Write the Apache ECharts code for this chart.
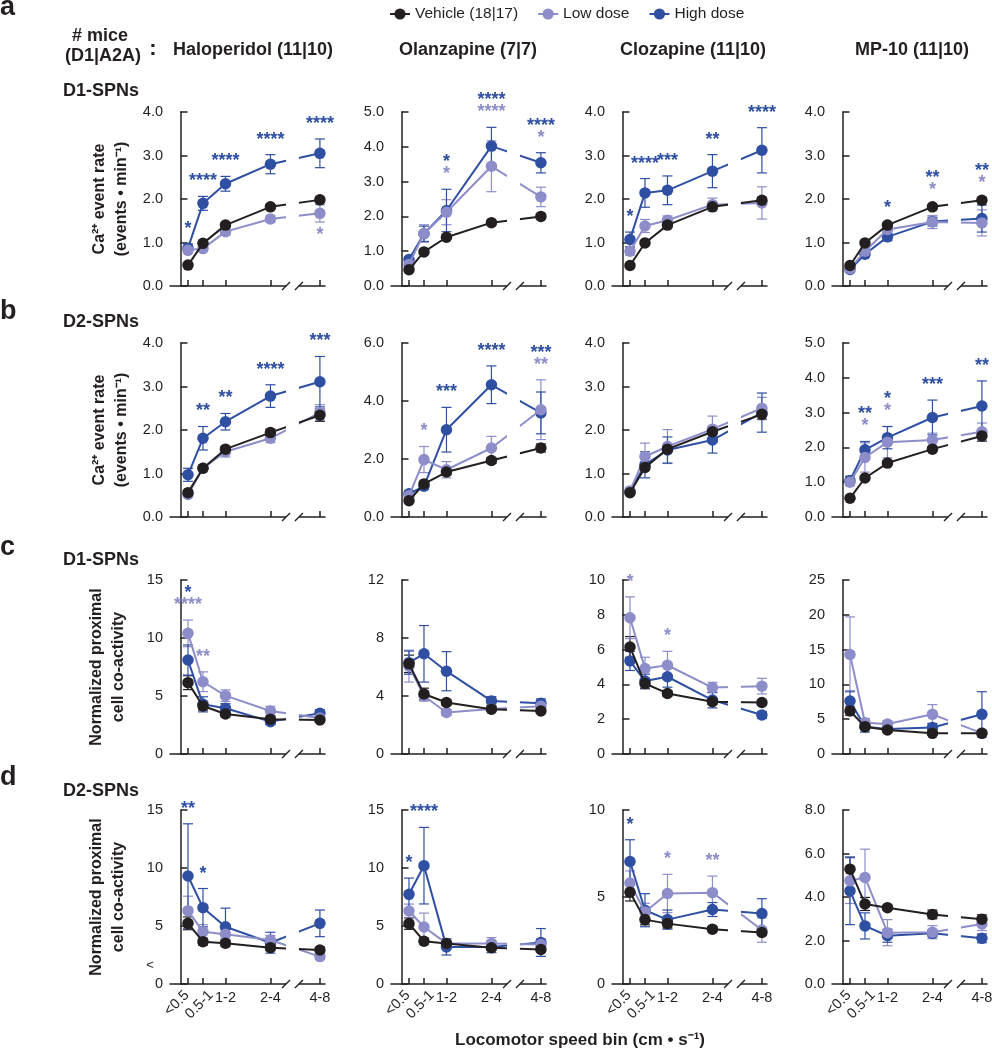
<!DOCTYPE html>
<html><head><meta charset="utf-8">
<script src="https://cdn.jsdelivr.net/npm/echarts@6/dist/echarts.min.js"></script>
<style>html,body{margin:0;padding:0;background:#fff}#c{width:992px;height:1050px}</style>
</head><body><div id="c"></div>
<script>
// ---------------- DATA ----------------
const bins = ['<0.5', '0.5-1', '1-2', '2-4', '4-8'];
const binMid = [0.25, 0.75, 1.5, 3, 6];            // bin centres (cm/s)
const groups = ['Vehicle (18|17)', 'Low dose', 'High dose'];
const drugs = ['Haloperidol (11|10)', 'Olanzapine (7|7)', 'Clozapine (11|10)', 'MP-10 (11|10)'];
const rowLetters = ['a', 'b', 'c', 'd'];
const rowCells = ['D1-SPNs', 'D2-SPNs', 'D1-SPNs', 'D2-SPNs'];
const yMax  = [[4, 5, 4, 4], [4, 6, 4, 5], [15, 12, 10, 25], [15, 15, 10, 8]];
const yStep = [[1, 1, 1, 1], [1, 2, 1, 1], [5, 4, 2, 5], [5, 5, 5, 2]];
const yDec  = [[1, 1, 1, 1], [1, 1, 1, 1], [0, 0, 0, 0], [0, 0, 0, 1]];

// means / SEM: [vehicle, low dose, high dose]; significance: [high dose, low dose] ('b:' = below)
// a: D1-SPNs Ca2+ event rate
const aHaloMean = [[0.48,0.98,1.40,1.82,1.98],[0.82,0.86,1.25,1.54,1.67],[0.87,1.90,2.35,2.80,3.05]];
const aHaloSem  = [[0.04,0.04,0.05,0.05,0.06],[0.06,0.06,0.08,0.08,0.20],[0.10,0.16,0.17,0.22,0.33]];
const aHaloSig  = [['*','****','****','****','****'],['','','','','b:*']];
const aOlanMean = [[0.47,0.98,1.40,1.82,2.00],[0.62,1.51,2.12,3.44,2.56],[0.76,1.50,2.17,4.02,3.54]];
const aOlanSem  = [[0.05,0.05,0.05,0.05,0.06],[0.08,0.25,0.36,0.73,0.28],[0.08,0.22,0.61,0.54,0.29]];
const aOlanSig  = [['','','*','****','****'],['','','*','****','*']];
const aClozMean = [[0.47,0.99,1.40,1.82,1.97],[0.80,1.38,1.51,1.87,1.91],[1.07,2.14,2.20,2.64,3.12]];
const aClozSem  = [[0.04,0.04,0.05,0.05,0.06],[0.09,0.15,0.10,0.15,0.37],[0.17,0.33,0.33,0.38,0.52]];
const aClozSig  = [['*','****','***','**','****'],['','','','','']];
const aMp10Mean = [[0.47,0.99,1.40,1.82,1.97],[0.40,0.80,1.30,1.47,1.45],[0.38,0.73,1.13,1.48,1.55]];
const aMp10Sem  = [[0.04,0.04,0.05,0.05,0.06],[0.05,0.07,0.10,0.15,0.30],[0.05,0.06,0.09,0.10,0.31]];
const aMp10Sig  = [['','','*','**','**'],['','','','*','*']];
// b: D2-SPNs Ca2+ event rate
const bHaloMean = [[0.56,1.12,1.56,1.94,2.34],[0.52,1.12,1.50,1.81,2.40],[0.97,1.81,2.19,2.78,3.11]];
const bHaloSem  = [[0.04,0.05,0.06,0.08,0.14],[0.05,0.08,0.12,0.10,0.18],[0.15,0.27,0.19,0.26,0.58]];
const bHaloSig  = [['','**','**','****','***'],['','','','','']];
const bOlanMean = [[0.56,1.14,1.55,1.95,2.38],[0.73,1.98,1.63,2.38,3.70],[0.80,1.06,3.01,4.56,3.59]];
const bOlanSem  = [[0.05,0.06,0.10,0.10,0.14],[0.10,0.45,0.28,0.40,1.03],[0.10,0.10,0.77,0.65,0.72]];
const bOlanSig  = [['','','***','****','***'],['','*','','','**']];
const bClozMean = [[0.56,1.14,1.56,1.96,2.36],[0.60,1.39,1.62,2.02,2.50],[0.58,1.20,1.54,1.77,2.40]];
const bClozSem  = [[0.04,0.05,0.06,0.07,0.12],[0.08,0.31,0.39,0.30,0.25],[0.06,0.30,0.30,0.30,0.45]];
const bClozSig  = [['','','','',''],['','','','','']];
const bMp10Mean = [[0.54,1.12,1.55,1.95,2.33],[1.00,1.71,2.15,2.21,2.45],[1.05,1.93,2.28,2.86,3.19]];
const bMp10Sem  = [[0.04,0.05,0.06,0.07,0.15],[0.10,0.42,0.45,0.20,0.25],[0.12,0.24,0.32,0.50,0.72]];
const bMp10Sig  = [['','**','*','***','**'],['','*','*','','']];
// c: D1-SPNs normalized proximal co-activity
const cHaloMean = [[6.15,4.14,3.45,2.99,2.93],[10.4,6.23,5.03,3.71,3.10],[8.10,4.28,3.94,2.79,3.51]];
const cHaloSem  = [[0.60,0.35,0.25,0.20,0.20],[1.15,0.85,0.50,0.40,0.30],[1.30,0.65,0.40,0.25,0.30]];
const cHaloSig  = [['*','','','',''],['****','**','','','']];
const cOlanMean = [[6.22,4.14,3.55,3.09,2.97],[6.06,4.00,2.86,3.10,3.30],[6.30,6.91,5.71,3.66,3.50]];
const cOlanSem  = [[0.60,0.40,0.20,0.15,0.15],[1.10,0.35,0.20,0.20,0.30],[0.80,1.95,1.35,0.30,0.30]];
const cOlanSig  = [['','','','',''],['','','','','']];
const cClozMean = [[6.15,4.05,3.48,3.00,2.96],[7.83,4.91,5.10,3.82,3.90],[5.35,4.19,4.44,3.10,2.24]];
const cClozSem  = [[0.60,0.30,0.15,0.15,0.12],[1.20,0.65,0.80,0.30,0.45],[0.55,0.40,0.60,0.45,0.20]];
const cClozSig  = [['','','','',''],['*','','*','','']];
const cMp10Mean = [[6.17,3.93,3.45,2.97,2.97],[14.3,4.50,4.30,5.70,3.00],[7.60,3.90,3.60,3.80,5.70]];
const cMp10Sem  = [[0.60,0.40,0.30,0.30,0.30],[5.40,0.60,0.50,1.40,0.40],[1.45,0.75,0.40,0.60,3.25]];
const cMp10Sig  = [['','','','',''],['','','','','']];
// d: D2-SPNs normalized proximal co-activity
const dHaloMean = [[5.23,3.65,3.51,3.13,2.93],[6.32,4.51,4.28,3.79,2.36],[9.31,6.58,4.94,3.56,5.23]];
const dHaloSem  = [[0.55,0.30,0.25,0.25,0.25],[1.25,0.60,0.40,0.40,0.25],[4.50,1.65,1.60,0.90,1.15]];
const dHaloSig  = [['**','*','','',''],['','','','','']];
const dOlanMean = [[5.21,3.69,3.49,3.12,2.98],[6.29,4.91,3.50,3.50,3.40],[7.73,10.2,3.20,3.20,3.58]];
const dOlanSem  = [[0.50,0.25,0.20,0.20,0.20],[0.60,1.20,0.30,0.50,0.50],[1.40,3.30,0.70,0.50,1.20]];
const dOlanSig  = [['*','****','','',''],['','','','','']];
const dClozMean = [[5.27,3.70,3.47,3.15,2.96],[5.80,4.14,5.20,5.25,3.10],[7.04,4.24,3.70,4.28,4.05]];
const dClozSem  = [[0.50,0.30,0.25,0.15,0.15],[0.70,0.50,1.10,0.95,0.70],[1.25,0.95,0.55,0.40,0.85]];
const dClozSig  = [['*','','','',''],['','','*','**','']];
const dMp10Mean = [[5.28,3.68,3.51,3.20,2.98],[4.75,4.90,2.36,2.38,2.76],[4.28,2.67,2.22,2.33,2.10]];
const dMp10Sem  = [[0.55,0.30,0.10,0.20,0.20],[1.05,1.30,0.60,0.30,0.30],[1.55,0.60,0.30,0.15,0.20]];
const dMp10Sig  = [['','','','',''],['','','','','']];

const panelData = [
  [[aHaloMean,aHaloSem,aHaloSig],[aOlanMean,aOlanSem,aOlanSig],[aClozMean,aClozSem,aClozSig],[aMp10Mean,aMp10Sem,aMp10Sig]],
  [[bHaloMean,bHaloSem,bHaloSig],[bOlanMean,bOlanSem,bOlanSig],[bClozMean,bClozSem,bClozSig],[bMp10Mean,bMp10Sem,bMp10Sig]],
  [[cHaloMean,cHaloSem,cHaloSig],[cOlanMean,cOlanSem,cOlanSig],[cClozMean,cClozSem,cClozSig],[cMp10Mean,cMp10Sem,cMp10Sig]],
  [[dHaloMean,dHaloSem,dHaloSig],[dOlanMean,dOlanSem,dOlanSig],[dClozMean,dClozSem,dClozSig],[dMp10Mean,dMp10Sem,dMp10Sig]]
];

// ---------------- STYLE / LAYOUT ----------------
const FONT = '"Liberation Sans", Arial, Helvetica, sans-serif';
const INK = '#231f20';
const colors = ['#231f20', '#8d8dca', '#2f4fa2'];
const gridLeft = [170, 391, 612, 832];
const gridTop = [112, 343, 580, 810];
const GW = 155, GH = 174;
const X_MIN = -0.35, X_MAX = 4.82;
// broken x axis: values above breakStart are shifted left
const breakStart = 3.52, breakEnd = 5.3, breakGap = 0.43;
function axisX(v) { return v <= breakStart ? v : v - (breakEnd - breakStart) + breakGap; }

const grids = [], xAxes = [], yAxes = [], series = [];
for (let r = 0; r < 4; r++) {
  for (let c = 0; c < 4; c++) {
    const gi = r * 4 + c;
    const [mean, sem, sig] = panelData[r][c];
    const dec = yDec[r][c];
    grids.push({left: gridLeft[c], top: gridTop[r], width: GW, height: GH, containLabel: false});
    xAxes.push({
      type: 'value', gridIndex: gi, min: X_MIN, max: X_MAX,
      axisLine: {show: true, lineStyle: {color: INK, width: 1.5}},
      axisTick: {show: true, inside: true, length: 6, customValues: binMid.map(axisX), lineStyle: {color: INK, width: 1.5}},
      axisLabel: {show: false}, splitLine: {show: false}
    });
    yAxes.push({
      type: 'value', gridIndex: gi, min: 0, max: yMax[r][c], interval: yStep[r][c],
      axisLine: {show: true, lineStyle: {color: INK, width: 1.5}},
      axisTick: {show: true, inside: true, length: 7, lineStyle: {color: INK, width: 1.5}},
      axisLabel: {color: INK, fontSize: 14.5, fontFamily: FONT, margin: 7, formatter: v => v.toFixed(dec)},
      splitLine: {show: false}
    });
    // error bars
    const ebData = [];
    for (let g = 0; g < 3; g++) for (let i = 0; i < 5; i++) ebData.push([axisX(binMid[i]), mean[g][i], sem[g][i], g]);
    series.push({
      type: 'custom', xAxisIndex: gi, yAxisIndex: gi, z: 2, silent: true, data: ebData,
      renderItem(params, api) {
        const x = api.value(0), m = api.value(1), s = api.value(2), g = api.value(3);
        const p1 = api.coord([x, m + s]), p2 = api.coord([x, m - s]);
        const st = {stroke: colors[g], lineWidth: 1.2, fill: null};
        return {type: 'group', children: [
          {type: 'line', shape: {x1: p1[0], y1: p1[1], x2: p2[0], y2: p2[1]}, style: st},
          {type: 'line', shape: {x1: p1[0] - 5, y1: p1[1], x2: p1[0] + 5, y2: p1[1]}, style: st},
          {type: 'line', shape: {x1: p2[0] - 5, y1: p2[1], x2: p2[0] + 5, y2: p2[1]}, style: st}
        ]};
      }
    });
    // lines
    for (let g = 2; g >= 0; g--) {
      series.push({
        type: 'line', name: groups[g], xAxisIndex: gi, yAxisIndex: gi, z: 5 - g,
        data: binMid.map((m, i) => [axisX(m), mean[g][i]]),
        symbol: 'circle', symbolSize: 11.5, showSymbol: true, color: colors[g],
        lineStyle: {width: 2, color: colors[g]}, itemStyle: {color: colors[g]},
        emphasis: {disabled: true}, silent: true
      });
    }
    // axis break overlay
    series.push({
      type: 'custom', xAxisIndex: gi, yAxisIndex: gi, z: 10, silent: true, data: [[0, 0]],
      renderItem(params, api) {
        const cs = params.coordSys;
        const x1 = api.coord([breakStart, 0])[0], x2 = api.coord([breakStart + breakGap, 0])[0];
        const yb = cs.y + cs.height;
        const st = {stroke: INK, lineWidth: 1.3};
        return {type: 'group', children: [
          {type: 'rect', shape: {x: x1, y: cs.y, width: x2 - x1, height: cs.height + 3}, style: {fill: '#fff'}},
          {type: 'line', shape: {x1: x1 - 4, y1: yb + 4, x2: x1 + 4, y2: yb - 4}, style: st},
          {type: 'line', shape: {x1: x2 - 4, y1: yb + 4, x2: x2 + 4, y2: yb - 4}, style: st}
        ]};
      }
    });
    // significance asterisks
    series.push({
      type: 'custom', xAxisIndex: gi, yAxisIndex: gi, z: 12, silent: true,
      data: binMid.map((m, i) => [axisX(m), i]),
      renderItem(params, api) {
        const x = api.value(0), i = api.value(1);
        let top = -Infinity;
        for (let g = 0; g < 3; g++) top = Math.max(top, mean[g][i] + sem[g][i]);
        const tp = api.coord([x, top]);
        const mk = (txt, col, y) => ({type: 'text', x: tp[0], y: y, style: {
          text: txt, fill: col, font: 'bold 18px ' + FONT,
          textAlign: 'center', align: 'center', textVerticalAlign: 'middle', verticalAlign: 'middle'}});
        const kids = [];
        let level = 0;
        const hi = sig[0][i], lo = sig[1][i];
        if (lo && lo.indexOf('b:') === 0) {
          const yb = api.coord([x, mean[1][i] - sem[1][i]])[1];
          kids.push(mk(lo.slice(2), colors[1], yb + 13));
        } else if (lo) { kids.push(mk(lo, colors[1], tp[1] - 15)); level++; }
        if (hi) kids.push(mk(hi, colors[2], tp[1] - 15 - 12 * level));
        return {type: 'group', children: kids};
      }
    });
    // x tick labels (bottom row)
    if (r === 3) {
      series.push({
        type: 'custom', xAxisIndex: gi, yAxisIndex: gi, z: 12, silent: true,
        data: binMid.map((m, i) => [axisX(m), i]),
        renderItem(params, api) {
          const i = api.value(1), cs = params.coordSys;
          const px = api.coord([api.value(0), 0])[0], yb = cs.y + cs.height;
          const base = {text: bins[i], fill: INK, font: '14.5px ' + FONT};
          if (i < 2) {
            return {type: 'text', x: px + [-1, 8][i], y: yb + 9, rotation: Math.PI / 4,
              style: Object.assign({}, base, {textAlign: 'right', align: 'right', textVerticalAlign: 'middle', verticalAlign: 'middle'})};
          }
          return {type: 'text', x: px, y: yb + 14,
            style: Object.assign({}, base, {textAlign: 'center', align: 'center', textVerticalAlign: 'middle', verticalAlign: 'middle'})};
        }
      });
    }
  }
}

// ---------------- TEXT ----------------
const T = (x, y, text, font, opts) => Object.assign({type: 'text', x: x, y: y, silent: true,
  style: Object.assign({text: text, fill: INK, font: font, textAlign: 'left', align: 'left',
    textVerticalAlign: 'middle', verticalAlign: 'middle'}, (opts && opts.style) || {})}, (opts && opts.el) || {});
const C = {style: {textAlign: 'center', align: 'center'}};
const graphic = [];
const letterY = [8, 312, 548, 778];
const cellY = [91, 322, 560, 791];
for (let r = 0; r < 4; r++) {
  graphic.push(T(0, letterY[r], rowLetters[r], 'bold 27px ' + FONT));
  graphic.push(T(63, cellY[r], rowCells[r], 'bold 18px ' + FONT));
}
const drugX = [253, 468, 693, 912];
drugs.forEach((d, c) => graphic.push(T(drugX[c], 50, d, 'bold 18px ' + FONT, C)));
graphic.push(T(100, 36, '# mice', 'bold 18px ' + FONT, C));
graphic.push(T(103, 56, '(D1|A2A)', 'bold 18px ' + FONT, C));
graphic.push(T(153, 49, ':', 'bold 22px ' + FONT, C));
const yNameA = 'Ca\u00b2\u207a event rate\n(events \u2022 min\u207b\u00b9)';
const yNameC = 'Normalized proximal\ncell co-activity';
const yNames = [yNameA, yNameA, yNameC, yNameC];
const yNameX = [111, 111, 108, 108];
for (let r = 0; r < 4; r++) {
  graphic.push(T(yNameX[r], gridTop[r] + GH / 2, yNames[r], 'bold 16px ' + FONT,
    {style: {textAlign: 'center', align: 'center', lineHeight: 22}, el: {rotation: Math.PI / 2}}));
}
graphic.push(T(150, 965, '<', '13px ' + FONT, C));
graphic.push(T(580, 1040, 'Locomotor speed bin (cm \u2022 s\u207b\u00b9)', 'bold 17px ' + FONT, C));

const chart = echarts.init(document.getElementById('c'), null, {renderer: 'canvas'});
chart.setOption({
  animation: false,
  backgroundColor: '#fff',
  textStyle: {fontFamily: FONT},
  legend: {
    data: groups, left: 389, top: 6, padding: 0, itemWidth: 20, itemHeight: 14, itemGap: 19,
    textStyle: {fontSize: 15.5, color: INK, fontFamily: FONT}, selectedMode: false
  },
  grid: grids, xAxis: xAxes, yAxis: yAxes, series: series, graphic: graphic
});
</script></body></html>
